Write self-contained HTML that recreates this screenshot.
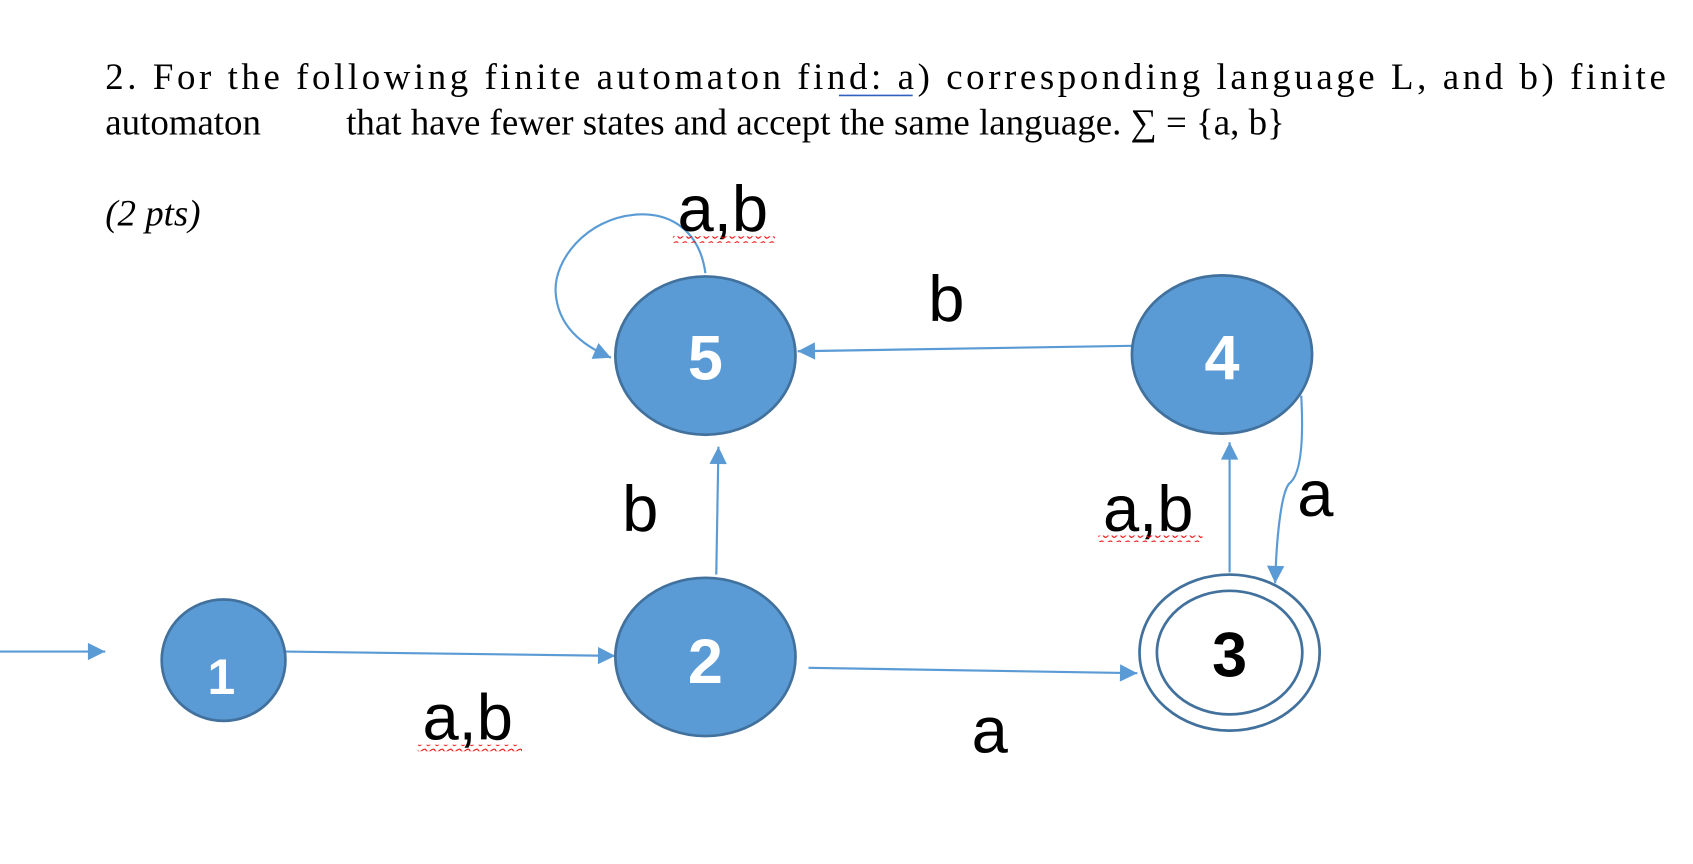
<!DOCTYPE html>
<html><head><meta charset="utf-8"><style>
html,body{margin:0;padding:0;background:#fff;}
svg{display:block;}
</style></head><body>
<svg width="1693" height="864" viewBox="0 0 1560 797" preserveAspectRatio="none" xmlns="http://www.w3.org/2000/svg">
<defs>
<marker id="ar" viewBox="0 0 10 10" refX="10" refY="5" markerWidth="18" markerHeight="16" markerUnits="userSpaceOnUse" orient="auto">
<path d="M0,0 L10,5 L0,10 z" fill="#5B9BD5"/>
</marker>
<pattern id="sq" width="8" height="6" patternUnits="userSpaceOnUse"><path d="M0,1 Q2,5 4,3 T8,1" fill="none" stroke="#e00" stroke-width="1"/></pattern>
</defs>
<g font-family="'Liberation Serif',serif" font-size="34" fill="#000">
<text x="97" y="82" textLength="1438" lengthAdjust="spacing">2.        For the following finite automaton find: a) corresponding language L, and b) finite</text>
<text x="97" y="124">automaton</text>
<text x="319" y="124">that have fewer states and accept the same language. ∑ = {a, b}</text>
<text x="97" y="208" font-style="italic">(2 pts)</text>
</g>
<line x1="773" y1="88" x2="841" y2="88" stroke="#3060c0" stroke-width="1.5"/>
<g stroke="#5B9BD5" stroke-width="2" fill="none">
<line x1="0" y1="601" x2="97" y2="601" marker-end="url(#ar)"/>
<line x1="263" y1="601" x2="567" y2="605" marker-end="url(#ar)"/>
<line x1="745" y1="616" x2="1048" y2="621" marker-end="url(#ar)"/>
<line x1="660" y1="530" x2="662" y2="412" marker-end="url(#ar)"/>
<line x1="1043" y1="319" x2="735" y2="324" marker-end="url(#ar)"/>
<line x1="1133" y1="528" x2="1133" y2="408" marker-end="url(#ar)"/>
<path d="M1199,365 C1202,420 1196,440 1188,446 C1180,455 1176,500 1175,538" marker-end="url(#ar)"/>
<path d="M650,252 C645,215 620,195 585,198 C540,202 510,240 512,270 C514,300 535,318 563,330" marker-end="url(#ar)"/>
</g>
<g fill="#5B9BD5" stroke="#41719C" stroke-width="2.5">
<ellipse cx="650" cy="328" rx="83" ry="73"/>
<ellipse cx="1126" cy="327" rx="83" ry="73"/>
<ellipse cx="650" cy="606" rx="83" ry="73"/>
<ellipse cx="206" cy="609" rx="57" ry="56"/>
</g>
<g fill="#fff" stroke="#41719C" stroke-width="2.5">
<ellipse cx="1133" cy="602" rx="83" ry="72"/>
<ellipse cx="1133" cy="602" rx="67" ry="57"/>
</g>
<g font-family="'Liberation Sans',sans-serif" font-weight="bold" text-anchor="middle" font-size="58" fill="#fff">
<text x="650" y="350">5</text>
<text x="1126" y="350">4</text>
<text x="650" y="630">2</text>
<text x="204" y="640" font-size="46">1</text>
<text x="1133" y="624" fill="#000">3</text>
</g>
<g font-family="'Liberation Sans',sans-serif" font-size="60" text-anchor="middle" fill="#000">
<text x="666" y="213">a,b</text>
<text x="872" y="296">b</text>
<text x="590" y="490">b</text>
<text x="1058" y="490">a,b</text>
<text x="1212" y="476">a</text>
<text x="431" y="682">a,b</text>
<text x="912" y="694">a</text>
</g>
<g fill="url(#sq)">
<rect x="620" y="218" width="94" height="6"/>
<rect x="1012" y="494" width="96" height="6"/>
<rect x="385" y="687" width="96" height="6"/>
</g>
</svg>
</body></html>
